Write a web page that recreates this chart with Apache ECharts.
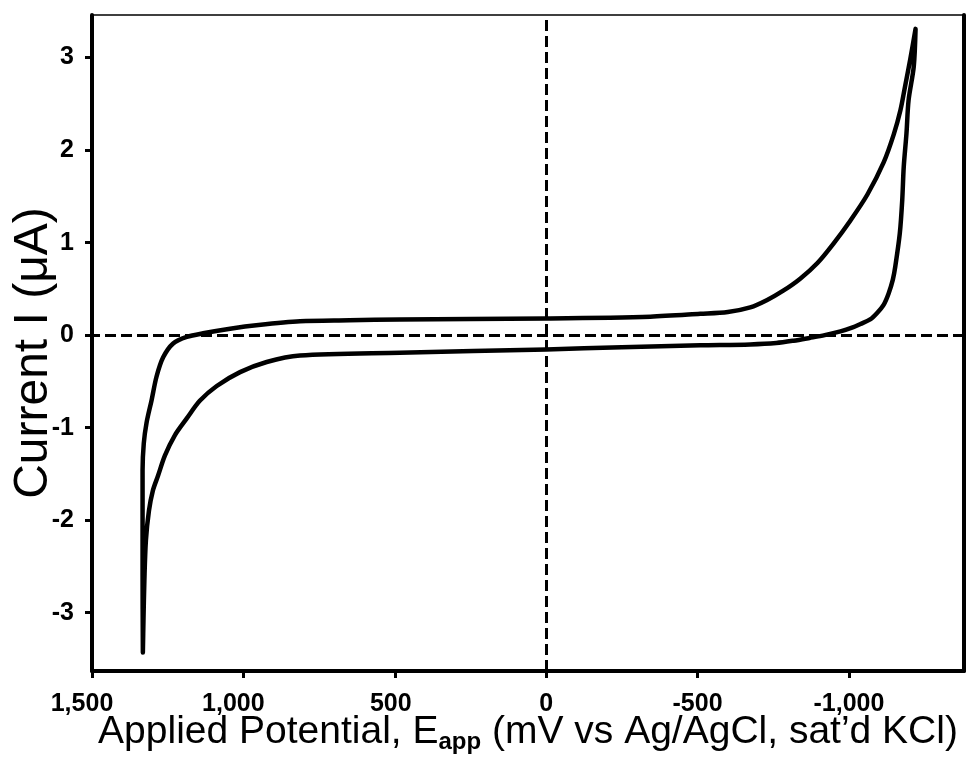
<!DOCTYPE html>
<html>
<head>
<meta charset="utf-8">
<script src="https://cdn.jsdelivr.net/npm/echarts@6/dist/echarts.min.js"></script>
<style>
  html, body { margin: 0; padding: 0; background: #fff; }
  #chart { width: 968px; height: 771px; }
</style>
</head>
<body>
<div id="chart"></div>
<script>
// Tick values
const xTicks = [1500, 1000, 500, 0, -500, -1000];
const yTicks = [-3, -2, -1, 0, 1, 2, 3];

// Sweep 1: from the positive limit (bottom-left tip) across the top branch to the negative limit
const potentialForward = [1332, 1333, 1333, 1329, 1320, 1303, 1287, 1265, 1232, 1187, 1133, 1044, 950, 813, 650, 483, 250, 0, -344, -509, -600, -674, -730, -783, -839, -896, -949, -1005, -1061, -1115, -1148, -1170, -1186, -1203, -1220];
const currentForward   = [-3.43, -2.60, -1.46, -1.17, -0.95, -0.70, -0.45, -0.24, -0.09, -0.02, 0.02, 0.07, 0.11, 0.15, 0.16, 0.17, 0.175, 0.18, 0.20, 0.23, 0.25, 0.30, 0.38, 0.48, 0.61, 0.78, 0.99, 1.24, 1.52, 1.87, 2.17, 2.43, 2.70, 2.99, 3.31];

// Sweep 2: from the negative limit back along the bottom branch to the positive limit
const potentialReverse = [-1220, -1214, -1197, -1190, -1181, -1176, -1168, -1153, -1145, -1131, -1115, -1093, -1070, -1038, -1010, -972, -920, -870, -817, -760, -674, -509, -250, 0, 483, 813, 923, 1011, 1088, 1144, 1187, 1226, 1259, 1282, 1299, 1312, 1322, 1327, 1330, 1332];
const currentReverse   = [3.31, 2.90, 2.54, 2.18, 1.82, 1.46, 1.10, 0.74, 0.60, 0.45, 0.33, 0.24, 0.17, 0.12, 0.08, 0.04, 0.00, -0.03, -0.06, -0.085, -0.10, -0.11, -0.13, -0.155, -0.19, -0.22, -0.29, -0.40, -0.55, -0.71, -0.90, -1.08, -1.30, -1.52, -1.68, -1.90, -2.22, -2.65, -3.08, -3.43];

const loopData = [];
potentialForward.forEach((p, i) => loopData.push([p, currentForward[i]]));
potentialReverse.forEach((p, i) => loopData.push([p, currentReverse[i]]));

function fmtThousands(v) {
  const s = Math.abs(v).toString().replace(/\B(?=(\d{3})+(?!\d))/g, ',');
  return (v < 0 ? '-' : '') + s;
}
function xLabel(v) {
  const t = fmtThousands(v);
  if (v >= 1000) return '{w|' + t + '}';
  if (v === 500) return '{m|' + t + '}';
  return '{n|' + t + '}';
}

const FONT = '"Liberation Sans", Arial, Helvetica, sans-serif';
const tickFont = { fontFamily: FONT, fontWeight: 'bold', fontSize: 25, color: '#000' };
const chart = echarts.init(document.getElementById('chart'), null, { renderer: 'canvas' });

chart.setOption({
  animation: false,
  backgroundColor: '#ffffff',
  grid: { left: 92, right: 4, top: 15, bottom: 100, containLabel: false, outerBoundsMode: 'none' },
  xAxis: [
    {
      type: 'value', position: 'bottom', inverse: true, min: -1380, max: 1500,
      axisLine: { show: true, onZero: false, lineStyle: { color: '#000', width: 4 } },
      axisTick: { show: true, inside: false, length: 7, customValues: xTicks, lineStyle: { color: '#000', width: 3 } },
      axisLabel: {
        show: true, customValues: xTicks, margin: 21, color: '#000', fontFamily: FONT, fontWeight: 'bold', fontSize: 25,
        formatter: xLabel,
        rich: {
          w: Object.assign({ padding: [0, 20, 0, 0] }, tickFont),
          m: Object.assign({ padding: [0, 8, 0, 0] }, tickFont),
          n: Object.assign({}, tickFont)
        }
      },
      splitLine: { show: false },
      name: '{a|Applied Potential, E}{s|app}{a| (mV vs Ag/AgCl, sat\u2019d KCl)}',
      nameLocation: 'middle', nameGap: 39, nameMoveOverlap: false,
      nameTextStyle: {
        rich: {
          a: { fontFamily: FONT, fontSize: 39, color: '#000', lineHeight: 44 },
          s: { fontFamily: FONT, fontSize: 24, fontWeight: 'bold', color: '#000', lineHeight: 12, verticalAlign: 'bottom' }
        }
      }
    },
    {
      type: 'value', position: 'top', inverse: true, min: -1380, max: 1500,
      axisLine: { show: true, onZero: false, lineStyle: { color: '#000', width: 1.5 } },
      axisTick: { show: false }, axisLabel: { show: false }, splitLine: { show: false }
    }
  ],
  yAxis: [
    {
      type: 'value', position: 'left', min: -3.63, max: 3.46,
      axisLine: { show: true, onZero: false, lineStyle: { color: '#000', width: 4 } },
      axisTick: { show: true, inside: false, length: 7, customValues: yTicks, lineStyle: { color: '#000', width: 3 } },
      axisLabel: { show: true, customValues: yTicks, margin: 18, color: '#000', fontFamily: FONT, fontWeight: 'bold', fontSize: 25, formatter: v => String(Math.round(v)) },
      splitLine: { show: false },
      name: 'Current I (\u03bcA)', nameLocation: 'middle', nameRotate: 90, nameGap: 34, nameMoveOverlap: false,
      nameTextStyle: { fontFamily: FONT, fontSize: 48, color: '#000', padding: [0, 20, 0, 0] }
    },
    {
      type: 'value', position: 'right', min: -3.63, max: 3.46,
      axisLine: { show: true, onZero: false, lineStyle: { color: '#000', width: 4 } },
      axisTick: { show: false }, axisLabel: { show: false }, splitLine: { show: false }
    }
  ],
  series: [
    {
      type: 'line', xAxisIndex: 0, yAxisIndex: 0,
      data: loopData, showSymbol: false, smooth: 0.3,
      lineStyle: { color: '#000', width: 4.5, join: 'round', cap: 'round' },
      markLine: {
        silent: true, symbol: ['none', 'none'], animation: false,
        label: { show: false },
        lineStyle: { color: '#000', width: 3, type: [11, 5] },
        data: [{ xAxis: 0 }, { yAxis: 0 }]
      }
    }
  ]
});
</script>
</body>
</html>
